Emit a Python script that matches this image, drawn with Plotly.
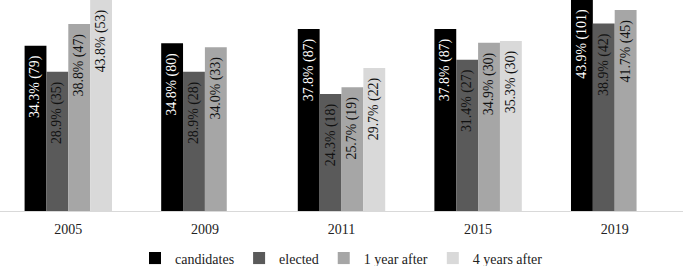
import plotly.graph_objects as go

years = ["2005", "2009", "2011", "2015", "2019"]
series_names = ["candidates", "elected", "1 year after", "4 years after"]
candidates_pct = [34.3, 34.8, 37.8, 37.8, 43.9]
candidates_n = [79, 80, 87, 87, 101]
elected_pct = [28.9, 28.9, 24.3, 31.4, 38.9]
elected_n = [35, 28, 18, 27, 42]
one_year_pct = [38.8, 34.0, 25.7, 34.9, 41.7]
one_year_n = [47, 33, 19, 30, 45]
four_years_pct = [43.8, None, 29.7, 35.3, None]
four_years_n = [53, None, 22, 30, None]

colors = ["#000000", "#5a5a5a", "#a6a6a6", "#d9d9d9"]
text_colors = ["#ffffff", "#111111", "#111111", "#111111"]

FONT = "Liberation Serif, Times New Roman, serif"

def labels(pcts, ns):
    out = []
    for p, n in zip(pcts, ns):
        out.append("" if p is None else f"{p:.1f}% ({n})\u00a0\u00a0")
    return out

fig = go.Figure()
all_series = [
    (candidates_pct, candidates_n),
    (elected_pct, elected_n),
    (one_year_pct, one_year_n),
    (four_years_pct, four_years_n),
]
for i, (pcts, ns) in enumerate(all_series):
    fig.add_trace(go.Bar(
        x=years, y=pcts, name=series_names[i],
        marker=dict(color=colors[i], line=dict(width=0)),
        text=labels(pcts, ns),
        textposition="inside", insidetextanchor="end", textangle=-90,
        insidetextfont=dict(family=FONT, size=14, color=text_colors[i]),
        hoverinfo="skip",
    ))

fig.update_layout(
    width=685, height=266,
    margin=dict(l=0, r=2, t=0, b=55, autoexpand=False),
    paper_bgcolor="white", plot_bgcolor="white",
    barmode="group", bargap=0.36, bargroupgap=0,
    font=dict(family=FONT, size=14, color="#222222"),
    xaxis=dict(showgrid=False, showline=True, linecolor="#d9d9d9", linewidth=1,
               ticks="", ticklabelstandoff=5, tickfont=dict(size=14, color="#222222")),
    yaxis=dict(range=[0, 43.8], visible=False, showgrid=False, zeroline=False),
    legend=dict(orientation="h", x=0.5, xanchor="center",
                y=-0.225, yanchor="middle", font=dict(size=14, color="#222222"),
                itemwidth=30, tracegroupgap=0),
    showlegend=True,
)

fig.write_html(
    "out.html",
    config={"displayModeBar": False},
    post_script="document.body.style.margin='0';document.body.style.overflow='hidden';",
)
